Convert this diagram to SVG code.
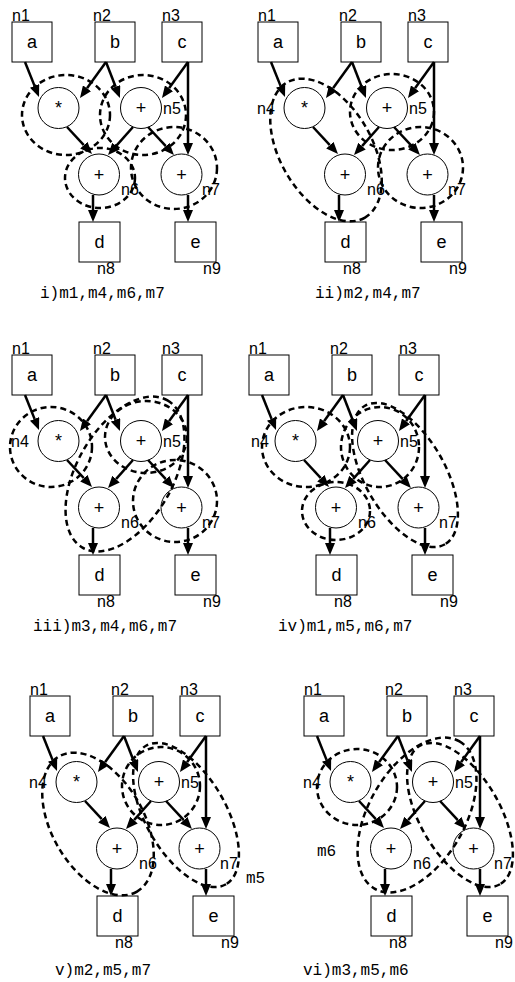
<svg xmlns="http://www.w3.org/2000/svg" width="515" height="982" viewBox="0 0 515 982">
<style>
.box{fill:#fff;stroke:#000;stroke-width:1}
.op{fill:#fff;stroke:#000;stroke-width:1}
.lbl{font-family:"Liberation Sans",Arial,sans-serif;font-size:18px;text-anchor:middle;fill:#000}
.nid{font-family:"Liberation Sans",Arial,sans-serif;font-size:16px;fill:#000}
.cap{font-family:"Liberation Mono","Courier New",monospace;font-size:16px;fill:#000}
.edge{stroke:#000;stroke-width:2.5;fill:none;marker-end:url(#ah)}
.grp ellipse{fill:none;stroke:#000;stroke-width:2.5;stroke-dasharray:6 4}
</style>
<defs>
<marker id="ah" markerUnits="userSpaceOnUse" viewBox="0 -5 12 10" markerWidth="12" markerHeight="10" refX="0" refY="0" orient="auto">
<path d="M0,-5 L12,0 L0,5 z" fill="#000"/>
</marker>
</defs>

<!-- Panel i -->
<g id="panel1">
<g id="p1-a"><rect class="box" x="12" y="22" width="40" height="40"/><text class="lbl" x="32" y="48">a</text><text class="nid" x="12" y="21">n1</text></g>
<g id="p1-b"><rect class="box" x="95" y="22" width="40" height="40"/><text class="lbl" x="115" y="48">b</text><text class="nid" x="93" y="21">n2</text></g>
<g id="p1-c"><rect class="box" x="162" y="22" width="40" height="40"/><text class="lbl" x="182" y="48">c</text><text class="nid" x="162" y="21">n3</text></g>
<g id="p1-n4"><circle class="op" cx="58.5" cy="108" r="20.5"/><text class="lbl" x="58.5" y="114">*</text></g>
<g id="p1-n5"><circle class="op" cx="141" cy="108" r="20.5"/><text class="lbl" x="141" y="114">+</text><text class="nid" x="163" y="114">n5</text></g>
<g id="p1-n6"><circle class="op" cx="99" cy="174.5" r="20.5"/><text class="lbl" x="99" y="180.5">+</text><text class="nid" x="121" y="195">n6</text></g>
<g id="p1-n7"><circle class="op" cx="181.5" cy="174.5" r="20.5"/><text class="lbl" x="181.5" y="180.5">+</text><text class="nid" x="202" y="195">n7</text></g>
<g id="p1-d"><rect class="box" x="79" y="222" width="41" height="40"/><text class="lbl" x="99.5" y="248">d</text><text class="nid" x="97" y="274">n8</text></g>
<g id="p1-e"><rect class="box" x="175" y="222" width="41" height="40"/><text class="lbl" x="195.5" y="248">e</text><text class="nid" x="203" y="274">n9</text></g>
<g id="p1-edges">
<path class="edge" d="M25,62 L34.55,85.86"/>
<path class="edge" d="M106,62 L87,88.3"/>
<path class="edge" d="M106,62 L115.6,86.8"/>
<path class="edge" d="M188,62 L169,88.3"/>
<path class="edge" d="M188,62 L188,143"/>
<path class="edge" d="M67,127 L83.85,145.2"/>
<path class="edge" d="M133,127 L116,146.05"/>
<path class="edge" d="M148,127 L165.8,146.2"/>
<path class="edge" d="M93,195 L93,210"/>
<path class="edge" d="M188,195 L188,210"/>
</g>
<g id="p1-groups" class="grp">
<ellipse cx="66" cy="115" rx="44" ry="40"/>
<ellipse cx="143" cy="115" rx="43" ry="40"/>
<ellipse cx="100" cy="178" rx="35" ry="30"/>
<ellipse cx="174" cy="168" rx="43" ry="41"/>
</g>
<text id="cap1" class="cap" x="40" y="298">i)m1,m4,m6,m7</text>
</g>

<!-- Panel ii -->
<g id="panel2" transform="translate(246,0)">
<g id="p2-a"><rect class="box" x="12" y="22" width="40" height="40"/><text class="lbl" x="32" y="48">a</text><text class="nid" x="12" y="21">n1</text></g>
<g id="p2-b"><rect class="box" x="95" y="22" width="40" height="40"/><text class="lbl" x="115" y="48">b</text><text class="nid" x="93" y="21">n2</text></g>
<g id="p2-c"><rect class="box" x="162" y="22" width="40" height="40"/><text class="lbl" x="182" y="48">c</text><text class="nid" x="162" y="21">n3</text></g>
<g id="p2-n4"><circle class="op" cx="58.5" cy="108" r="20.5"/><text class="lbl" x="58.5" y="114">*</text><text class="nid" x="11" y="114">n4</text></g>
<g id="p2-n5"><circle class="op" cx="141" cy="108" r="20.5"/><text class="lbl" x="141" y="114">+</text><text class="nid" x="163" y="114">n5</text></g>
<g id="p2-n6"><circle class="op" cx="99" cy="174.5" r="20.5"/><text class="lbl" x="99" y="180.5">+</text><text class="nid" x="121" y="195">n6</text></g>
<g id="p2-n7"><circle class="op" cx="181.5" cy="174.5" r="20.5"/><text class="lbl" x="181.5" y="180.5">+</text><text class="nid" x="202" y="195">n7</text></g>
<g id="p2-d"><rect class="box" x="79" y="222" width="41" height="40"/><text class="lbl" x="99.5" y="248">d</text><text class="nid" x="97" y="274">n8</text></g>
<g id="p2-e"><rect class="box" x="175" y="222" width="41" height="40"/><text class="lbl" x="195.5" y="248">e</text><text class="nid" x="203" y="274">n9</text></g>
<g id="p2-edges">
<path class="edge" d="M25,62 L34.55,85.86"/>
<path class="edge" d="M106,62 L87,88.3"/>
<path class="edge" d="M106,62 L115.6,86.8"/>
<path class="edge" d="M188,62 L169,88.3"/>
<path class="edge" d="M188,62 L188,143"/>
<path class="edge" d="M67,127 L83.85,145.2"/>
<path class="edge" d="M133,127 L116,146.05"/>
<path class="edge" d="M148,127 L165.8,146.2"/>
<path class="edge" d="M93,195 L93,210"/>
<path class="edge" d="M188,195 L188,210"/>
</g>
<g id="p2-groups" class="grp">
<ellipse cx="80" cy="150" rx="78" ry="46" transform="rotate(60 80 150)"/>
<ellipse cx="146" cy="112" rx="42" ry="38"/>
<ellipse cx="174.5" cy="167.5" rx="42.5" ry="40.5"/>
</g>
</g>
<text id="cap2" class="cap" x="315" y="298">ii)m2,m4,m7</text>

<!-- Panel iii -->
<g id="panel3" transform="translate(0,333)">
<g id="p3-a"><rect class="box" x="12" y="22" width="40" height="40"/><text class="lbl" x="32" y="48">a</text><text class="nid" x="12" y="21">n1</text></g>
<g id="p3-b"><rect class="box" x="95" y="22" width="40" height="40"/><text class="lbl" x="115" y="48">b</text><text class="nid" x="93" y="21">n2</text></g>
<g id="p3-c"><rect class="box" x="162" y="22" width="40" height="40"/><text class="lbl" x="182" y="48">c</text><text class="nid" x="162" y="21">n3</text></g>
<g id="p3-n4"><circle class="op" cx="58.5" cy="108" r="20.5"/><text class="lbl" x="58.5" y="114">*</text><text class="nid" x="11" y="114">n4</text></g>
<g id="p3-n5"><circle class="op" cx="141" cy="108" r="20.5"/><text class="lbl" x="141" y="114">+</text><text class="nid" x="163" y="114">n5</text></g>
<g id="p3-n6"><circle class="op" cx="99" cy="174.5" r="20.5"/><text class="lbl" x="99" y="180.5">+</text><text class="nid" x="121" y="195">n6</text></g>
<g id="p3-n7"><circle class="op" cx="181.5" cy="174.5" r="20.5"/><text class="lbl" x="181.5" y="180.5">+</text><text class="nid" x="202" y="195">n7</text></g>
<g id="p3-d"><rect class="box" x="79" y="222" width="41" height="40"/><text class="lbl" x="99.5" y="248">d</text><text class="nid" x="97" y="274">n8</text></g>
<g id="p3-e"><rect class="box" x="175" y="222" width="41" height="40"/><text class="lbl" x="195.5" y="248">e</text><text class="nid" x="203" y="274">n9</text></g>
<g id="p3-edges">
<path class="edge" d="M25,62 L34.55,85.86"/>
<path class="edge" d="M106,62 L87,88.3"/>
<path class="edge" d="M106,62 L115.6,86.8"/>
<path class="edge" d="M188,62 L169,88.3"/>
<path class="edge" d="M188,62 L188,143"/>
<path class="edge" d="M67,127 L83.85,145.2"/>
<path class="edge" d="M133,127 L116,146.05"/>
<path class="edge" d="M148,127 L165.8,146.2"/>
<path class="edge" d="M93,195 L93,210"/>
<path class="edge" d="M188,195 L188,210"/>
</g>
<g id="p3-groups" class="grp">
<ellipse cx="51" cy="114" rx="41" ry="40"/>
<ellipse cx="146" cy="104" rx="41" ry="36"/>
<ellipse cx="125" cy="141" rx="85" ry="48" transform="rotate(-60 125 141)"/>
<ellipse cx="175" cy="168" rx="42" ry="41"/>
</g>
</g>
<text id="cap3" class="cap" x="33" y="631">iii)m3,m4,m6,m7</text>

<!-- Panel iv -->
<g id="panel4" transform="translate(237,333)">
<g id="p4-a"><rect class="box" x="12" y="22" width="40" height="40"/><text class="lbl" x="32" y="48">a</text><text class="nid" x="12" y="21">n1</text></g>
<g id="p4-b"><rect class="box" x="95" y="22" width="40" height="40"/><text class="lbl" x="115" y="48">b</text><text class="nid" x="93" y="21">n2</text></g>
<g id="p4-c"><rect class="box" x="162" y="22" width="40" height="40"/><text class="lbl" x="182" y="48">c</text><text class="nid" x="162" y="21">n3</text></g>
<g id="p4-n4"><circle class="op" cx="58.5" cy="108" r="20.5"/><text class="lbl" x="58.5" y="114">*</text><text class="nid" x="14" y="114">n4</text></g>
<g id="p4-n5"><circle class="op" cx="141" cy="108" r="20.5"/><text class="lbl" x="141" y="114">+</text><text class="nid" x="163" y="114">n5</text></g>
<g id="p4-n6"><circle class="op" cx="99" cy="174.5" r="20.5"/><text class="lbl" x="99" y="180.5">+</text><text class="nid" x="121" y="195">n6</text></g>
<g id="p4-n7"><circle class="op" cx="181.5" cy="174.5" r="20.5"/><text class="lbl" x="181.5" y="180.5">+</text><text class="nid" x="202" y="195">n7</text></g>
<g id="p4-d"><rect class="box" x="79" y="222" width="41" height="40"/><text class="lbl" x="99.5" y="248">d</text><text class="nid" x="97" y="274">n8</text></g>
<g id="p4-e"><rect class="box" x="175" y="222" width="41" height="40"/><text class="lbl" x="195.5" y="248">e</text><text class="nid" x="203" y="274">n9</text></g>
<g id="p4-edges">
<path class="edge" d="M25,62 L34.55,85.86"/>
<path class="edge" d="M106,62 L87,88.3"/>
<path class="edge" d="M106,62 L115.6,86.8"/>
<path class="edge" d="M188,62 L169,88.3"/>
<path class="edge" d="M188,62 L188,143"/>
<path class="edge" d="M67,127 L83.85,145.2"/>
<path class="edge" d="M133,127 L116,146.05"/>
<path class="edge" d="M148,127 L165.8,146.2"/>
<path class="edge" d="M93,195 L93,210"/>
<path class="edge" d="M188,195 L188,210"/>
</g>
<g id="p4-groups" class="grp">
<ellipse cx="69" cy="114" rx="44" ry="40"/>
<ellipse cx="99" cy="178" rx="34" ry="29"/>
<ellipse cx="143" cy="114" rx="39" ry="40"/>
<ellipse cx="168" cy="142" rx="80" ry="40" transform="rotate(60 168 142)"/>
</g>
</g>
<text id="cap4" class="cap" x="278" y="631">iv)m1,m5,m6,m7</text>

<!-- Panel v -->
<g id="panel5" transform="translate(18,674)">
<g id="p5-a"><rect class="box" x="12" y="22" width="40" height="40"/><text class="lbl" x="32" y="48">a</text><text class="nid" x="12" y="21">n1</text></g>
<g id="p5-b"><rect class="box" x="95" y="22" width="40" height="40"/><text class="lbl" x="115" y="48">b</text><text class="nid" x="93" y="21">n2</text></g>
<g id="p5-c"><rect class="box" x="162" y="22" width="40" height="40"/><text class="lbl" x="182" y="48">c</text><text class="nid" x="162" y="21">n3</text></g>
<g id="p5-n4"><circle class="op" cx="58.5" cy="108" r="20.5"/><text class="lbl" x="58.5" y="114">*</text><text class="nid" x="11" y="114">n4</text></g>
<g id="p5-n5"><circle class="op" cx="141" cy="108" r="20.5"/><text class="lbl" x="141" y="114">+</text><text class="nid" x="163" y="114">n5</text></g>
<g id="p5-n6"><circle class="op" cx="99" cy="174.5" r="20.5"/><text class="lbl" x="99" y="180.5">+</text><text class="nid" x="121" y="195">n6</text></g>
<g id="p5-n7"><circle class="op" cx="181.5" cy="174.5" r="20.5"/><text class="lbl" x="181.5" y="180.5">+</text><text class="nid" x="202" y="195">n7</text></g>
<g id="p5-d"><rect class="box" x="79" y="222" width="41" height="40"/><text class="lbl" x="99.5" y="248">d</text><text class="nid" x="97" y="274">n8</text></g>
<g id="p5-e"><rect class="box" x="175" y="222" width="41" height="40"/><text class="lbl" x="195.5" y="248">e</text><text class="nid" x="203" y="274">n9</text></g>
<g id="p5-edges">
<path class="edge" d="M25,62 L34.55,85.86"/>
<path class="edge" d="M106,62 L87,88.3"/>
<path class="edge" d="M106,62 L115.6,86.8"/>
<path class="edge" d="M188,62 L169,88.3"/>
<path class="edge" d="M188,62 L188,143"/>
<path class="edge" d="M67,127 L83.85,145.2"/>
<path class="edge" d="M133,127 L116,146.05"/>
<path class="edge" d="M148,127 L165.8,146.2"/>
<path class="edge" d="M93,195 L93,210"/>
<path class="edge" d="M188,195 L188,210"/>
</g>
<g id="p5-groups" class="grp">
<ellipse cx="80" cy="150" rx="78" ry="46" transform="rotate(60 80 150)"/>
<ellipse cx="168" cy="141" rx="80" ry="40" transform="rotate(60 168 141)"/>
<ellipse cx="143" cy="112" rx="39" ry="39"/>
</g>
</g>
<text id="m5" class="cap" x="246" y="883">m5</text>
<text id="cap5" class="cap" x="55" y="975">v)m2,m5,m7</text>

<!-- Panel vi -->
<g id="panel6" transform="translate(292,674)">
<g id="p6-a"><rect class="box" x="12" y="22" width="40" height="40"/><text class="lbl" x="32" y="48">a</text><text class="nid" x="12" y="21">n1</text></g>
<g id="p6-b"><rect class="box" x="95" y="22" width="40" height="40"/><text class="lbl" x="115" y="48">b</text><text class="nid" x="93" y="21">n2</text></g>
<g id="p6-c"><rect class="box" x="162" y="22" width="40" height="40"/><text class="lbl" x="182" y="48">c</text><text class="nid" x="162" y="21">n3</text></g>
<g id="p6-n4"><circle class="op" cx="58.5" cy="108" r="20.5"/><text class="lbl" x="58.5" y="114">*</text><text class="nid" x="11" y="114">n4</text></g>
<g id="p6-n5"><circle class="op" cx="141" cy="108" r="20.5"/><text class="lbl" x="141" y="114">+</text><text class="nid" x="163" y="114">n5</text></g>
<g id="p6-n6"><circle class="op" cx="99" cy="174.5" r="20.5"/><text class="lbl" x="99" y="180.5">+</text><text class="nid" x="121" y="195">n6</text></g>
<g id="p6-n7"><circle class="op" cx="181.5" cy="174.5" r="20.5"/><text class="lbl" x="181.5" y="180.5">+</text><text class="nid" x="202" y="195">n7</text></g>
<g id="p6-d"><rect class="box" x="79" y="222" width="41" height="40"/><text class="lbl" x="99.5" y="248">d</text><text class="nid" x="97" y="274">n8</text></g>
<g id="p6-e"><rect class="box" x="175" y="222" width="41" height="40"/><text class="lbl" x="195.5" y="248">e</text><text class="nid" x="203" y="274">n9</text></g>
<g id="p6-edges">
<path class="edge" d="M25,62 L34.55,85.86"/>
<path class="edge" d="M106,62 L87,88.3"/>
<path class="edge" d="M106,62 L115.6,86.8"/>
<path class="edge" d="M188,62 L169,88.3"/>
<path class="edge" d="M188,62 L188,143"/>
<path class="edge" d="M67,127 L83.85,145.2"/>
<path class="edge" d="M133,127 L116,146.05"/>
<path class="edge" d="M148,127 L165.8,146.2"/>
<path class="edge" d="M93,195 L93,210"/>
<path class="edge" d="M188,195 L188,210"/>
</g>
<g id="p6-groups" class="grp">
<ellipse cx="65" cy="113" rx="40" ry="38"/>
<ellipse cx="125" cy="141" rx="85" ry="48" transform="rotate(-60 125 141)"/>
<ellipse cx="168" cy="141" rx="80" ry="40" transform="rotate(60 168 141)"/>
</g>
</g>
<text id="m6" class="cap" x="317" y="856">m6</text>
<text id="cap6" class="cap" x="303" y="975">vi)m3,m5,m6</text>
</svg>
